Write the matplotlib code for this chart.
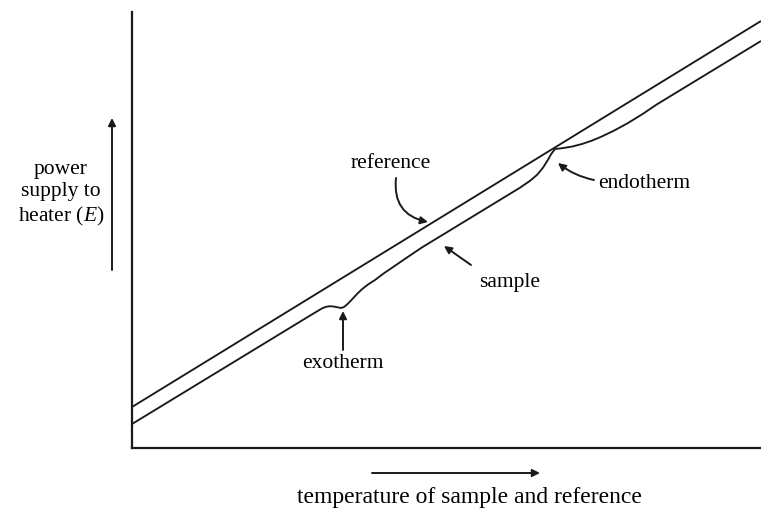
import matplotlib
matplotlib.use("Agg")
import matplotlib.pyplot as plt

plt.rcParams["font.family"] = ["Liberation Serif", "DejaVu Serif"]
plt.rcParams["mathtext.fontset"] = "custom"
plt.rcParams["mathtext.rm"] = "Liberation Serif"
plt.rcParams["mathtext.it"] = "Liberation Serif:italic"

# Power supplied to the reference heater: a straight ramp
reference_x = [0, 629]
reference_y = [41, 427]

# Power supplied to the sample heater, with an exotherm dip and an endotherm peak
sample_x = [0, 180, 186, 190, 194, 198, 202, 206, 209, 212, 215, 219, 225, 230,
            236, 243, 252, 262, 275, 290, 388, 398, 405, 411, 416, 419, 423,
            430, 440, 450, 460, 470, 482, 495, 510, 525, 629]
sample_y = [24, 133.6, 137.2, 139.6, 141.2, 141.8, 141.4, 140.6, 140.0, 141.0,
            143.5, 147.5, 154.0, 158.8, 163.5, 168.0, 174.8, 181.6, 190.5,
            200.6, 260.3, 267.2, 273.1, 280.3, 288.3, 293.7, 299.0, 299.8,
            301.4, 304.0, 307.4, 311.6, 317.4, 324.4, 333.6, 343.7, 407]

line_color = "#1a1a1a"
fs = 15.5

fig = plt.figure(figsize=(7.61, 5.14), dpi=100)
ax = fig.add_axes([132 / 761, 66 / 514, 629 / 761, 436 / 514])
ax.set_xlim(0, 629)
ax.set_ylim(0, 436)

ax.plot(reference_x, reference_y, color=line_color, lw=1.35, solid_capstyle="butt")
ax.plot(sample_x, sample_y, color=line_color, lw=1.35, solid_capstyle="butt")

for side in ("top", "right"):
    ax.spines[side].set_visible(False)
for side in ("left", "bottom"):
    ax.spines[side].set_linewidth(1.6)
    ax.spines[side].set_color(line_color)
ax.set_xticks([])
ax.set_yticks([])

arrow_kw = dict(arrowstyle="-|>", color=line_color, lw=1.4, mutation_scale=11,
                shrinkA=0, shrinkB=0)

# curve labels with pointers
ax.text(259, 285, "reference", fontsize=fs, ha="center", va="center")
ax.annotate("", xy=(296, 226), xytext=(264, 270),
            arrowprops=dict(connectionstyle="arc3,rad=0.45", **arrow_kw))

ax.text(378, 165, "sample", fontsize=fs, ha="center", va="center")
ax.annotate("", xy=(312, 202), xytext=(339, 183), arrowprops=arrow_kw)

ax.text(211, 84, "exotherm", fontsize=fs, ha="center", va="center")
ax.annotate("", xy=(211, 137), xytext=(211, 98), arrowprops=arrow_kw)

ax.text(512, 265, "endotherm", fontsize=fs, ha="center", va="center")
ax.annotate("", xy=(426, 285), xytext=(462, 268),
            arrowprops=dict(connectionstyle="arc3,rad=-0.12", **arrow_kw))

# axis captions with direction arrows
ax.text(-71, 254, "power\nsupply to\nheater ($E$)", fontsize=fs, ha="center",
        va="center", linespacing=1.25, clip_on=False)
ax.annotate("", xy=(-20, 330), xytext=(-20, 178), arrowprops=arrow_kw,
            annotation_clip=False)

ax.text(337, -50, "temperature of sample and reference", fontsize=17,
        ha="center", va="center", clip_on=False)
ax.annotate("", xy=(408, -25), xytext=(240, -25), arrowprops=arrow_kw,
            annotation_clip=False)

fig.savefig("out.png", dpi=100)
